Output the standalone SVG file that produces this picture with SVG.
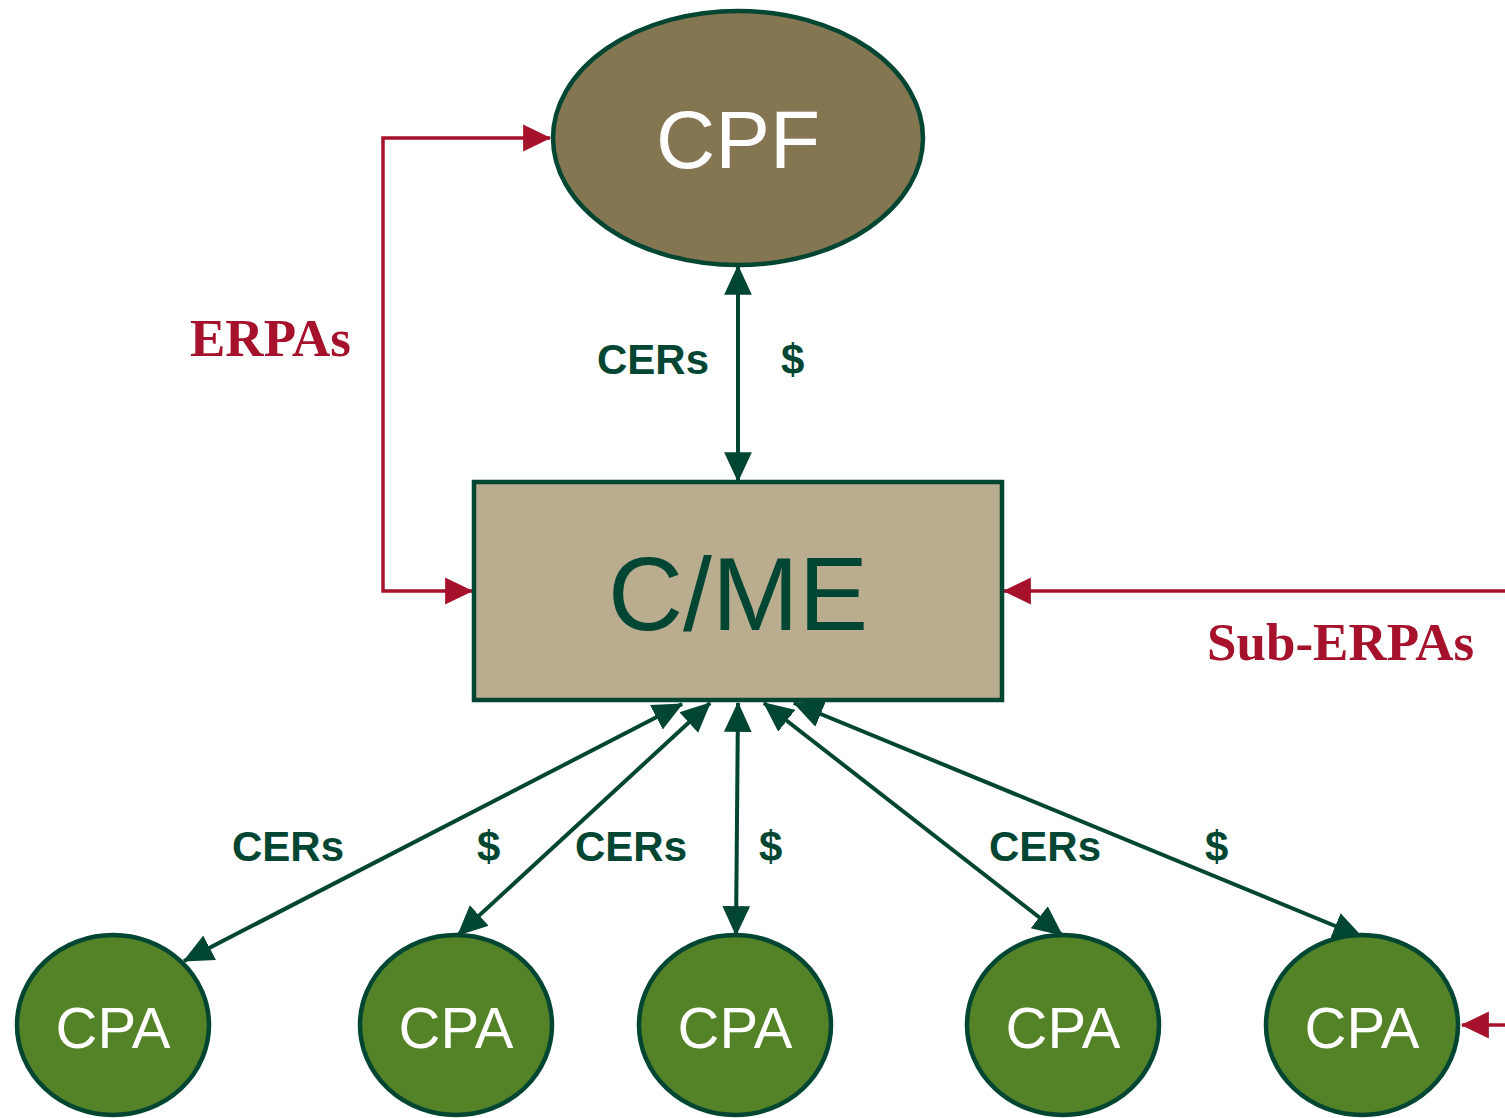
<svg xmlns="http://www.w3.org/2000/svg" width="1505" height="1118" viewBox="0 0 1505 1118">
<style>
.node{stroke:#004632;stroke-width:4.5}
.g{fill:none;stroke:#004632;stroke-width:4}
.r{fill:none;stroke:#A6112B;stroke-width:3.5}
.lbl{font-family:"Liberation Sans",Arial,sans-serif;font-weight:bold;font-size:42px;fill:#004632}
.rl{font-family:"Liberation Serif","Times New Roman",serif;font-weight:bold;font-size:53px;fill:#A6112B}
.cpa{font-family:"Liberation Sans",Arial,sans-serif;font-size:58px;fill:#fff;text-anchor:middle}
</style>
<defs>
<marker id="ag" markerUnits="userSpaceOnUse" markerWidth="30" markerHeight="30" viewBox="0 0 26 24" refX="25" refY="12" orient="auto-start-reverse"><path d="M0,0 L26,12 L0,24 Z" fill="#004632"/></marker>
<marker id="ar" markerUnits="userSpaceOnUse" markerWidth="28" markerHeight="28" viewBox="0 0 25 24" refX="24" refY="12" orient="auto-start-reverse"><path d="M0,0 L25,12 L0,24 Z" fill="#A6112B"/></marker>
</defs>
<rect width="1505" height="1118" fill="#fff"/>
<g id="connectors">
<path class="r" d="M550,138 H383 V591 H472" marker-start="url(#ar)" marker-end="url(#ar)"/>
<path class="r" d="M1505,591 H1004" marker-end="url(#ar)"/>
<path class="r" d="M1505,1025 H1462" marker-end="url(#ar)"/>
<path class="g" d="M738,266 V481" marker-start="url(#ag)" marker-end="url(#ag)"/>
<path class="g" d="M682,704 L184,961" marker-start="url(#ag)" marker-end="url(#ag)"/>
<path class="g" d="M710,703 L458,935" marker-start="url(#ag)" marker-end="url(#ag)"/>
<path class="g" d="M738,703 L736,935" marker-start="url(#ag)" marker-end="url(#ag)"/>
<path class="g" d="M764,703 L1062,935" marker-start="url(#ag)" marker-end="url(#ag)"/>
<path class="g" d="M794,703 L1362,937" marker-start="url(#ag)" marker-end="url(#ag)"/>
</g>
<g id="labels">
<text class="rl" x="190" y="356">ERPAs</text>
<text class="rl" x="1207" y="660">Sub-ERPAs</text>
<text class="lbl" x="597" y="374">CERs</text>
<text class="lbl" x="781" y="374">$</text>
<text class="lbl" x="232" y="861">CERs</text>
<text class="lbl" x="477" y="861">$</text>
<text class="lbl" x="575" y="861">CERs</text>
<text class="lbl" x="759" y="861">$</text>
<text class="lbl" x="989" y="861">CERs</text>
<text class="lbl" x="1205" y="861">$</text>
</g>
<g id="cpf">
<ellipse class="node" cx="738" cy="138" rx="185" ry="127" fill="#857652"/>
<text x="738" y="168" font-family="'Liberation Sans',Arial,sans-serif" font-size="82" fill="#fff" text-anchor="middle">CPF</text>
</g>
<g id="cme">
<rect class="node" x="474" y="482" width="528" height="218" fill="#BAAD8F"/>
<text x="738" y="630" font-family="'Liberation Sans',Arial,sans-serif" font-size="104" fill="#004632" text-anchor="middle">C/ME</text>
</g>
<g id="cpa1"><ellipse class="node" cx="113" cy="1025" rx="96" ry="90" fill="#548226"/><text class="cpa" x="113" y="1048">CPA</text></g>
<g id="cpa2"><ellipse class="node" cx="456" cy="1025" rx="96" ry="90" fill="#548226"/><text class="cpa" x="456" y="1048">CPA</text></g>
<g id="cpa3"><ellipse class="node" cx="735" cy="1025" rx="96" ry="90" fill="#548226"/><text class="cpa" x="735" y="1048">CPA</text></g>
<g id="cpa4"><ellipse class="node" cx="1063" cy="1025" rx="96" ry="90" fill="#548226"/><text class="cpa" x="1063" y="1048">CPA</text></g>
<g id="cpa5"><ellipse class="node" cx="1362" cy="1025" rx="96" ry="90" fill="#548226"/><text class="cpa" x="1362" y="1048">CPA</text></g>
</svg>
